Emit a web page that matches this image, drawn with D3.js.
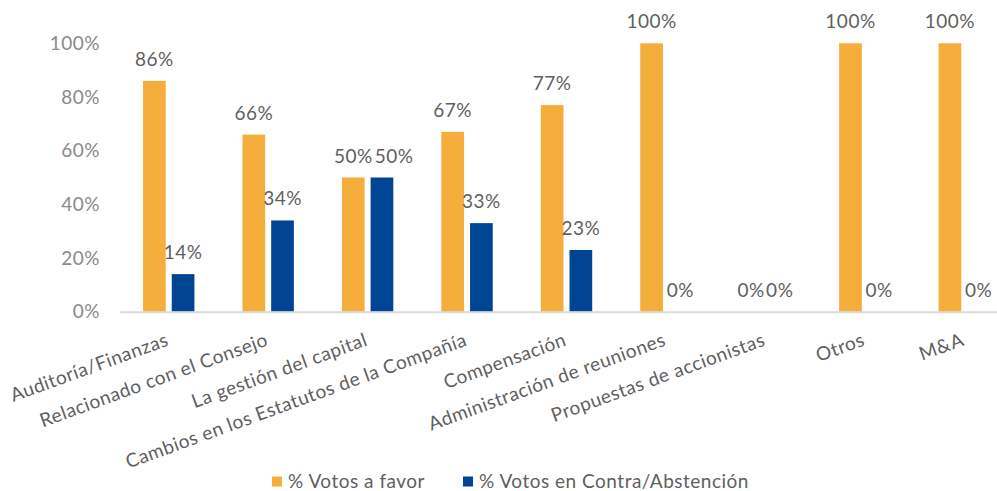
<!DOCTYPE html>
<html lang="es">
<head>
  <meta charset="UTF-8">
  <title>Votos por categoría</title>
  <script src="https://d3js.org/d3.v7.min.js"></script>
  <style>
    body {
      margin: 0;
      background: #ffffff;
      font-family: Lato, "Open Sans", sans-serif;
    }
    svg { display: block; }
    text { letter-spacing: 0.5px; }
    .tick text { fill: #8a8a8a; }
    .label { fill: #5f5f5f; }
  </style>
</head>
<body>
  <div id="chart"></div>
  <script>
    // categorías y valores (en %)
    const categories = [
      "Auditoría/Finanzas",
      "Relacionado con el Consejo",
      "La gestión del capital",
      "Cambios en los Estatutos de la Compañía",
      "Compensación",
      "Administración de reuniones",
      "Propuestas de accionistas",
      "Otros",
      "M&A"
    ];
    const favor = [86, 66, 50, 67, 77, 100, 0, 100, 100];
    const contra = [14, 34, 50, 33, 23, 0, 0, 0, 0];
    const seriesNames = ["% Votos a favor", "% Votos en Contra/Abstención"];
    const colors = ["#F5AE3B", "#004494"];
    const yTicks = [0, 20, 40, 60, 80, 100];

    const width = 997, height = 491;
    const fs = 19;

    const svg = d3.select("#chart").append("svg")
      .attr("width", width)
      .attr("height", height);

    const x = d3.scaleBand()
      .domain(categories)
      .range([119, 1014]);

    const xs = d3.scaleBand()
      .domain([0, 1])
      .range([-25.7, 25.7])
      .paddingInner(0.209);

    const y = d3.scaleLinear()
      .domain([0, 100])
      .range([311.7, 43.3]);

    // eje Y (solo etiquetas)
    const yAxis = svg.append("g")
      .attr("transform", "translate(100,0)")
      .call(d3.axisLeft(y).tickValues(yTicks).tickSize(0).tickPadding(0).tickFormat(d => d + "%"));
    yAxis.select(".domain").remove();
    yAxis.selectAll("text")
      .attr("font-size", fs)
      .attr("font-family", "Lato, sans-serif");

    const rows = categories.map((c, i) => ({ cat: c, vals: [favor[i], contra[i]] }));

    const groups = svg.append("g")
      .selectAll("g")
      .data(rows)
      .join("g")
      .attr("transform", d => `translate(${x(d.cat) + x.bandwidth() / 2},0)`);

    groups.selectAll("rect")
      .data(d => d.vals.map((v, s) => ({ v, s })))
      .join("rect")
      .attr("x", d => xs(d.s))
      .attr("width", xs.bandwidth())
      .attr("y", d => y(d.v))
      .attr("height", d => y(0) - y(d.v))
      .attr("fill", d => colors[d.s]);

    groups.selectAll("text")
      .data(d => d.vals.map((v, s) => ({ v, s })))
      .join("text")
      .attr("class", "label")
      .attr("x", d => xs(d.s) + xs.bandwidth() / 2)
      .attr("y", d => y(d.v) - 15)
      .attr("text-anchor", "middle")
      .attr("font-size", fs)
      .text(d => d.v + "%");

    // si las dos etiquetas se pisan (misma altura), se corre la segunda a la derecha
    groups.each(function() {
      const labels = d3.select(this).selectAll("text").nodes();
      const [a, b] = labels;
      if (+a.getAttribute("y") !== +b.getAttribute("y")) return;
      const wa = a.getComputedTextLength(), wb = b.getComputedTextLength();
      const xa = +a.getAttribute("x"), xb = +b.getAttribute("x");
      const overlap = (xa + wa / 2) - (xb - wb / 2);
      if (overlap > 0) b.setAttribute("x", xb + overlap + 2);
    });

    // eje X
    svg.append("line")
      .attr("x1", 120).attr("x2", width)
      .attr("y1", y(0) + 0.5).attr("y2", y(0) + 0.5)
      .attr("stroke", "#d9d9d9")
      .attr("stroke-width", 2);

    svg.append("g")
      .selectAll("text")
      .data(categories)
      .join("text")
      .attr("class", "label")
      .attr("font-size", fs)
      .attr("fill", "#6a6a6a")
      .attr("text-anchor", "end")
      .attr("transform", d => `translate(${x(d) + x.bandwidth() / 2 + 1},345) rotate(-20)`)
      .text(d => d);

    // leyenda
    const legend = svg.append("g").attr("transform", "translate(272,0)");
    const legX = [0, 191];
    seriesNames.forEach((name, i) => {
      legend.append("rect")
        .attr("x", legX[i]).attr("y", 476.5)
        .attr("width", 10).attr("height", 10)
        .attr("fill", colors[i]);
      legend.append("text")
        .attr("class", "label")
        .attr("x", legX[i] + 16).attr("y", 488)
        .attr("font-size", fs)
        .text(name);
    });
  </script>
</body>
</html>
